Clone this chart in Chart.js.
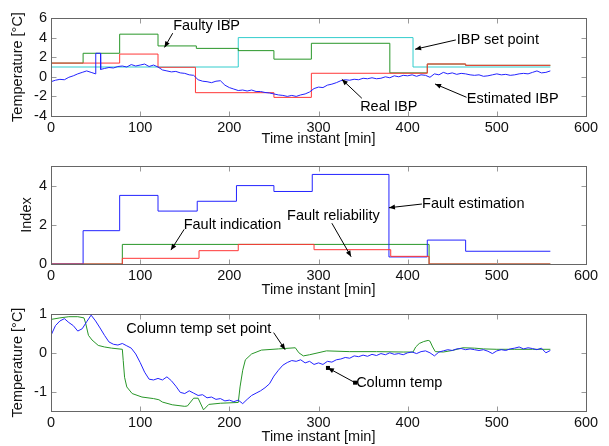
<!DOCTYPE html>
<html>
<head>
<meta charset="utf-8">
<script src="https://cdn.jsdelivr.net/npm/chart.js@4.4.1/dist/chart.umd.min.js"></script>
<style>
  html, body { margin: 0; padding: 0; background: #fff; }
  #wrap { position: relative; width: 609px; height: 446px; }
  canvas { position: absolute; left: 0; }
</style>
</head>
<body>
<div id="wrap">
  <canvas id="c1" width="609" height="150" style="top:0px"></canvas>
  <canvas id="c2" width="609" height="150" style="top:150px"></canvas>
  <canvas id="c3" width="609" height="146" style="top:300px"></canvas>
</div>
<script>
// ---- data (time in min) ----
const xTicks = [0, 100, 200, 300, 400, 500, 600];

// top: IBP temperatures
const ibpSetT = [0, 210, 406, 560];
const ibpSetV = [1.0, 4.0, 1.0, 1.0];
const faultyIbpT = [0, 36, 77, 120, 163, 210, 250, 292, 380, 422, 465, 560];
const faultyIbpV = [1.4, 2.4, 4.35, 3.15, 2.9, 2.67, 1.8, 3.42, 0.4, 1.3, 1.17, 1.17];
const realIbpT = [0, 77, 120, 162, 250, 292, 422, 465, 560];
const realIbpV = [1.4, 2.32, 0.97, -1.62, -2.1, 0.36, 1.31, 1.17, 1.17];
const estIbpStep = 5;
const estIbpV = [
  -0.5, -0.35, -0.26, -0.3, -0.05, 0.1, 0.3, 0.45, 0.6, 0.45,
  0.3, 0.9, 0.85, 0.95, 0.9, 1.05, 1.1, 1.0, 1.25, 1.1,
  1.2, 1.3, 1.05, 1.2, 1.0, 0.7, 0.6, 0.5, 0.55, 0.4,
  0.35, 0.2, 0.15, -0.3, -0.45, -0.5, -0.6, -0.45, -0.4, -0.85,
  -1.1, -1.25, -1.4, -1.35, -1.45, -1.35, -1.5, -1.5, -1.6, -1.65,
  -1.75, -1.85, -1.9, -2.0, -1.9, -2.0, -1.85, -1.75, -1.55, -1.2,
  -1.05, -1.1, -0.85, -0.75, -0.6, -0.4, -0.3, -0.35, -0.25, -0.3,
  -0.15, -0.2, -0.1, -0.2, -0.15, 0.0, -0.1, 0.1, 0.0, 0.15,
  0.1, 0.2, 0.05, 0.2, 0.15, -0.05, 0.3, 0.2, 0.45, 0.3,
  0.4, 0.25, 0.35, 0.3, 0.2, 0.15, 0.2, 0.05, 0.1, 0.2,
  0.3, 0.2, 0.25, 0.15, 0.2, 0.3, 0.35, 0.3, 0.45, 0.6,
  0.4, 0.45, 0.6
];
const estSpikeT = [50.2, 55.5, 55.7];
const estSpikeV = [2.4, 2.4, 0.75];

// middle: fault indices
const faultEstT = [0, 36, 77, 120, 164, 208, 250, 293, 379, 422, 465, 560];
const faultEstV = [0, 1.7, 3.5, 2.7, 3.2, 4.0, 3.7, 4.57, 0.36, 1.22, 0.65, 0.65];
const faultIndT = [0, 80, 424, 560];
const faultIndV = [0, 1, 0, 0];
const faultRelT = [0, 80, 166, 210, 295, 381, 424, 560];
const faultRelV = [0, 0.29, 0.68, 1.0, 0.73, 0.39, 0, 0];

// bottom: column temperature
const colSetT = [0, 10, 20, 30, 37, 39, 42, 46, 53, 60, 68, 80, 81, 82.5, 85, 91, 102, 115, 121, 125,
  136, 150, 153, 160, 165, 171, 177, 190, 210, 212, 215, 218, 225, 236, 255, 274, 278, 283, 290, 309,
  335, 365, 395, 406, 409, 413, 418, 423, 425, 428, 431, 440, 450, 462, 475, 485, 500, 520, 540, 560];
const colSetV = [0.86, 0.9, 0.93, 0.93, 0.9, 0.75, 0.45, 0.33, 0.19, 0.15, 0.12, 0.09, -0.2, -0.63, -0.88, -1.05, -1.14, -1.18, -1.21, -1.27,
  -1.34, -1.38, -1.37, -1.17, -1.17, -1.47, -1.33, -1.3, -1.28, -0.88, -0.45, -0.18, -0.03, 0.07, 0.1, 0.13, 0.0, -0.08, -0.05, 0.05,
  0.03, 0.03, 0.02, 0.02, 0.15, 0.24, 0.29, 0.32, 0.3, 0.15, 0.03, 0.02, 0.06, 0.13, 0.12, 0.1, 0.09, 0.09, 0.09, 0.09];
const colTempStep = 5;
const colTempV = [
  0.45, 0.7, 0.82, 0.88, 0.78, 0.7, 0.56, 0.62, 0.8, 0.97,
  0.82, 0.64, 0.45, 0.28, 0.22, 0.2, 0.24, 0.18, 0.12, -0.03,
  -0.25, -0.5, -0.68, -0.7, -0.66, -0.7, -0.62, -0.72, -0.86, -1.02,
  -1.05, -0.98, -1.04, -1.1, -1.08, -1.16, -1.14, -1.2, -1.18, -1.24,
  -1.22, -1.26, -1.22, -1.31, -1.2, -1.1, -1.04, -0.98, -0.9, -0.8,
  -0.6, -0.45, -0.32, -0.25, -0.2, -0.22, -0.18, -0.26, -0.22, -0.3,
  -0.26, -0.3, -0.22, -0.24, -0.18, -0.16, -0.12, -0.14, -0.08, -0.1,
  -0.06, -0.09, -0.04, -0.07, -0.02, -0.05, 0.0, -0.04, -0.02, -0.05,
  0.0, 0.02, -0.02, 0.03, 0.05, 0.0, -0.08, 0.02, 0.05, 0.08,
  0.06, 0.1, 0.11, 0.08, 0.1, 0.08, 0.06, 0.08, 0.04, -0.02,
  0.05, 0.08, 0.06, 0.1, 0.12, 0.15, 0.1, 0.13, 0.11, 0.08,
  0.12, 0.0, 0.06
];

// ---- helpers ----
const FONT = 'Liberation Sans, Arial, sans-serif';
const BLUE = 'rgb(35,35,255)', RED = 'rgb(255,55,55)', GREEN = 'rgb(40,150,40)', CYAN = 'rgb(50,205,205)';

function pts(t, v) { return t.map((x, i) => ({ x: x, y: v[i] })); }
function gridPts(step, v) { return v.map((y, i) => ({ x: i * step, y: y })); }
function withSpike(base, st, sv) {
  const lo = st[0], hi = st[st.length - 1];
  return base.filter(p => p.x < lo || p.x > hi).concat(pts(st, sv)).sort((a, b) => a.x - b.x);
}
function line(data, color, stepped) {
  // chart.js 'before' = hold previous value until the next x, then jump
  return { data: data, borderColor: color, borderWidth: 1, pointRadius: 0, stepped: stepped ? 'before' : false, tension: 0 };
}

// box with inward ticks, matlab-like
const frame = {
  id: 'frame',
  afterDatasetsDraw(chart) {
    const { ctx, chartArea: a, scales: { x, y } } = chart;
    const L = Math.round(a.left) + 0.5, R = Math.round(a.right) + 0.5;
    const T = Math.round(a.top) + 0.5, B = Math.round(a.bottom) + 0.5;
    ctx.save();
    ctx.strokeStyle = '#9a9a9a';
    ctx.lineWidth = 1;
    ctx.beginPath();
    x.ticks.forEach(t => {
      const px = Math.round(x.getPixelForValue(t.value)) + 0.5;
      ctx.moveTo(px, B); ctx.lineTo(px, B - 5);
      ctx.moveTo(px, T); ctx.lineTo(px, T + 5);
    });
    y.ticks.forEach(t => {
      const py = Math.round(y.getPixelForValue(t.value)) + 0.5;
      ctx.moveTo(L, py); ctx.lineTo(L + 5, py);
      ctx.moveTo(R, py); ctx.lineTo(R - 5, py);
    });
    ctx.stroke();
    ctx.strokeStyle = '#666';
    ctx.strokeRect(L, T, R - L, B - T);
    ctx.restore();
  }
};

// text labels with arrows, given in data coords
const notes = {
  id: 'notes',
  afterDraw(chart, args, opts) {
    const { ctx, scales: { x, y } } = chart;
    ctx.save();
    ctx.font = '14.5px ' + FONT;
    ctx.fillStyle = '#000';
    ctx.strokeStyle = '#000';
    ctx.lineWidth = 1;
    ctx.textAlign = 'left';
    ctx.textBaseline = 'middle';
    (opts.items || []).forEach(n => {
      ctx.fillText(n.text, x.getPixelForValue(n.at[0]), y.getPixelForValue(n.at[1]));
      const x0 = x.getPixelForValue(n.from[0]), y0 = y.getPixelForValue(n.from[1]);
      const x1 = x.getPixelForValue(n.to[0]), y1 = y.getPixelForValue(n.to[1]);
      ctx.beginPath(); ctx.moveTo(x0, y0); ctx.lineTo(x1, y1); ctx.stroke();
      const ang = Math.atan2(y1 - y0, x1 - x0);
      ctx.beginPath();
      ctx.moveTo(x1, y1);
      ctx.lineTo(x1 - 6 * Math.cos(ang) + 2.5 * Math.sin(ang), y1 - 6 * Math.sin(ang) - 2.5 * Math.cos(ang));
      ctx.lineTo(x1 - 6 * Math.cos(ang) - 2.5 * Math.sin(ang), y1 - 6 * Math.sin(ang) + 2.5 * Math.cos(ang));
      ctx.closePath(); ctx.fill();
      if (n.squares) {
        ctx.fillRect(x0 - 2, y0 - 2, 4, 4);
        ctx.fillRect(x1 - 2, y1 - 2, 4, 4);
      }
    });
    ctx.restore();
  }
};

function makeChart(id, o) {
  return new Chart(document.getElementById(id), {
    type: 'line',
    data: { datasets: o.datasets },
    plugins: [frame, notes],
    options: {
      responsive: false,
      animation: false,
      events: [],
      layout: { padding: { left: o.padLeft, top: o.padTop, right: 23, bottom: 0 } },
      plugins: { legend: { display: false }, tooltip: { enabled: false }, notes: { items: o.notes } },
      scales: {
        x: {
          type: 'linear', min: 0, max: 600,
          afterBuildTicks: s => { s.ticks = xTicks.map(v => ({ value: v })); },
          afterFit: s => { s.height = o.xHeight; },
          grid: { display: false, drawTicks: false },
          border: { display: false },
          ticks: { padding: 3, autoSkip: false, color: '#111', font: { family: FONT, size: 14.5 }, maxRotation: 0 },
          title: { display: true, text: 'Time instant [min]', color: '#111',
                   font: { family: FONT, size: 14.5 }, padding: { top: 0, bottom: o.titlePad } }
        },
        y: {
          type: 'linear', min: o.yMin, max: o.yMax,
          afterBuildTicks: s => { s.ticks = o.yTicks.map(v => ({ value: v })); },
          afterFit: s => { s.width = 51 - o.padLeft; },
          grid: { display: false, drawTicks: false },
          border: { display: false },
          ticks: { padding: 4, autoSkip: false, color: '#111', font: { family: FONT, size: 14.5 } },
          title: { display: true, text: o.yTitle, color: '#111',
                   font: { family: FONT, size: 14.5 }, padding: { top: 0, bottom: 0 } }
        }
      }
    }
  });
}

makeChart('c1', {
  padLeft: 9, padTop: 18, xHeight: 34, titlePad: 2,
  yMin: -4, yMax: 6, yTicks: [-4, -2, 0, 2, 4, 6], yTitle: 'Temperature [°C]',
  datasets: [
    line(withSpike(gridPts(estIbpStep, estIbpV), estSpikeT, estSpikeV), BLUE, false),
    line(pts(realIbpT, realIbpV), RED, true),
    line(pts(faultyIbpT, faultyIbpV), GREEN, true),
    line(pts(ibpSetT, ibpSetV), CYAN, true)
  ],
  notes: [
    { text: 'Faulty IBP', at: [137, 5.2], from: [136.5, 4.45], to: [127.3, 3.0] },
    { text: 'IBP set point', at: [455, 3.76], from: [454, 3.76], to: [408.3, 2.81] },
    { text: 'Real IBP', at: [346.7, -3.05], from: [348.6, -2.19], to: [326.2, -0.26] },
    { text: 'Estimated IBP', at: [466.3, -2.27], from: [466, -2.09], to: [430.7, -0.73] }
  ]
});

makeChart('c2', {
  padLeft: 18, padTop: 16, xHeight: 36, titlePad: 1,
  yMin: 0, yMax: 5, yTicks: [0, 2, 4], yTitle: 'Index',
  datasets: [
    line(pts(faultRelT, faultRelV), RED, true),
    line(pts(faultEstT, faultEstV), BLUE, true),
    line(pts(faultIndT, faultIndV), GREEN, true)
  ],
  notes: [
    { text: 'Fault estimation', at: [416.2, 3.05], from: [416, 3.06], to: [379, 2.87] },
    { text: 'Fault reliability', at: [264.8, 2.45], from: [315, 2.08], to: [336.6, 0.37] },
    { text: 'Fault indication', at: [148.8, 1.99], from: [149.4, 1.77], to: [134.5, 0.71] }
  ]
});

makeChart('c3', {
  padLeft: 9, padTop: 14, xHeight: 35, titlePad: 0,
  yMin: -1.5, yMax: 1, yTicks: [-1, 0, 1], yTitle: 'Temperature [°C]',
  datasets: [
    line(gridPts(colTempStep, colTempV), BLUE, false),
    line(pts(colSetT, colSetV), GREEN, false)
  ],
  notes: [
    { text: 'Column temp set point', at: [84.4, 0.625], from: [249.7, 0.52], to: [262.6, 0.08] },
    { text: 'Column temp', at: [342.2, -0.77], from: [341, -0.77], to: [310.6, -0.39], squares: true }
  ]
});
</script>
</body>
</html>
